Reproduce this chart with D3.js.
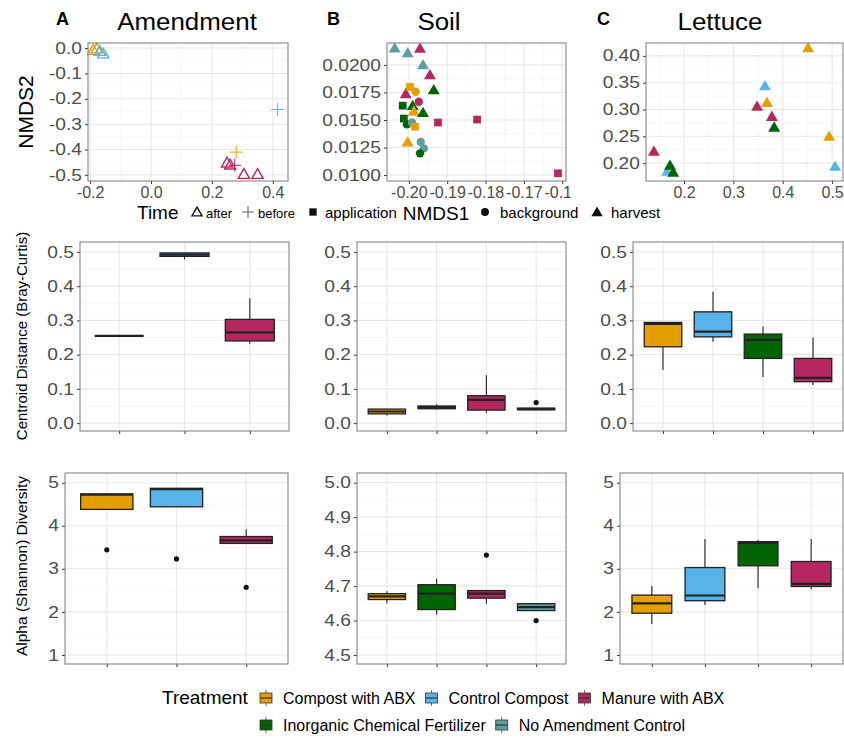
<!DOCTYPE html>
<html>
<head>
<meta charset="utf-8">
<script src="https://cdn.jsdelivr.net/npm/d3@7"></script>
<style>
  body { margin: 0; background: #fff; }
  text { font-family: "Liberation Sans", Arial, sans-serif; }
</style>
</head>
<body>
<svg id="chart" width="844" height="739"></svg>
<script>
// ---- data ----
const treatments = ["Compost with ABX", "Control Compost", "Manure with ABX",
                    "Inorganic Chemical Fertilizer", "No Amendment Control"];
const treatmentColors = ["#E69F00", "#56B4E9", "#B5275E", "#006400", "#5F9EA0"];
const timeLevels = ["after", "before", "application", "background", "harvest"];

const amendmentCats = ["Compost with ABX", "Control Compost", "Manure with ABX"];
const soilCats = ["Compost with ABX", "Inorganic Chemical Fertilizer", "Manure with ABX", "No Amendment Control"];
const lettuceCats = ["Compost with ABX", "Control Compost", "Inorganic Chemical Fertilizer", "Manure with ABX"];

// NMDS points: [treatment, time, NMDS1, NMDS2]
const amendmentPoints = [
  ["Compost with ABX", "after", -0.190, -0.008],
  ["Compost with ABX", "after", -0.178, -0.002],
  ["Control Compost", "after", -0.168, -0.012],
  ["Control Compost", "after", -0.157, -0.022],
  ["Control Compost", "before", 0.416, -0.242],
  ["Compost with ABX", "before", 0.280, -0.410],
  ["Manure with ABX", "after", 0.250, -0.452],
  ["Manure with ABX", "after", 0.260, -0.460],
  ["Manure with ABX", "before", 0.275, -0.462],
  ["Manure with ABX", "after", 0.305, -0.497],
  ["Manure with ABX", "after", 0.350, -0.497]
];
const soilPoints = [
  ["No Amendment Control", "harvest", -0.2037, 0.02153],
  ["No Amendment Control", "harvest", -0.2003, 0.02110],
  ["Manure with ABX", "harvest", -0.1971, 0.02150],
  ["No Amendment Control", "harvest", -0.1963, 0.02000],
  ["Manure with ABX", "harvest", -0.1945, 0.01910],
  ["Inorganic Chemical Fertilizer", "harvest", -0.1935, 0.01774],
  ["Manure with ABX", "harvest", -0.2008, 0.01738],
  ["Compost with ABX", "application", -0.1997, 0.01800],
  ["Compost with ABX", "background", -0.1982, 0.01756],
  ["Manure with ABX", "background", -0.1974, 0.01666],
  ["Inorganic Chemical Fertilizer", "application", -0.2016, 0.01630],
  ["Inorganic Chemical Fertilizer", "harvest", -0.1990, 0.01630],
  ["Compost with ABX", "harvest", -0.1987, 0.01580],
  ["Inorganic Chemical Fertilizer", "harvest", -0.1963, 0.01567],
  ["Inorganic Chemical Fertilizer", "application", -0.2013, 0.01513],
  ["Inorganic Chemical Fertilizer", "background", -0.2005, 0.01460],
  ["No Amendment Control", "background", -0.1992, 0.01477],
  ["Compost with ABX", "application", -0.1984, 0.01440],
  ["Manure with ABX", "application", -0.1924, 0.01477],
  ["Manure with ABX", "application", -0.1822, 0.01504],
  ["Compost with ABX", "harvest", -0.2003, 0.01300],
  ["No Amendment Control", "background", -0.1969, 0.01300],
  ["No Amendment Control", "background", -0.1961, 0.01242],
  ["Inorganic Chemical Fertilizer", "background", -0.1971, 0.01197],
  ["Manure with ABX", "application", -0.1611, 0.01016]
];
const lettucePoints = [
  ["Compost with ABX", "harvest", 0.4515, 0.415],
  ["Control Compost", "harvest", 0.364, 0.344],
  ["Compost with ABX", "harvest", 0.368, 0.313],
  ["Manure with ABX", "harvest", 0.348, 0.306],
  ["Manure with ABX", "harvest", 0.378, 0.287],
  ["Inorganic Chemical Fertilizer", "harvest", 0.3826, 0.267],
  ["Compost with ABX", "harvest", 0.494, 0.250],
  ["Control Compost", "harvest", 0.506, 0.194],
  ["Manure with ABX", "harvest", 0.139, 0.222],
  ["Control Compost", "harvest", 0.166, 0.185],
  ["Inorganic Chemical Fertilizer", "harvest", 0.1716, 0.196],
  ["Inorganic Chemical Fertilizer", "harvest", 0.178, 0.183]
];

// box summaries: [treatment, lower whisker, q1, median, q3, upper whisker, outliers]
const amendmentDistance = [
  ["Compost with ABX", 0.255, 0.255, 0.255, 0.255, 0.255, []],
  ["Control Compost", 0.478, 0.487, 0.492, 0.497, 0.497, []],
  ["Manure with ABX", 0.232, 0.240, 0.265, 0.303, 0.365, []]
];
const soilDistance = [
  ["Compost with ABX", 0.022, 0.027, 0.034, 0.041, 0.041, []],
  ["Inorganic Chemical Fertilizer", 0.040, 0.042, 0.046, 0.050, 0.055, []],
  ["Manure with ABX", 0.030, 0.038, 0.068, 0.080, 0.140, []],
  ["No Amendment Control", 0.038, 0.039, 0.041, 0.044, 0.044, [0.060]]
];
const lettuceDistance = [
  ["Compost with ABX", 0.155, 0.223, 0.290, 0.294, 0.294, []],
  ["Control Compost", 0.238, 0.252, 0.267, 0.325, 0.384, []],
  ["Inorganic Chemical Fertilizer", 0.135, 0.189, 0.243, 0.260, 0.282, []],
  ["Manure with ABX", 0.111, 0.121, 0.132, 0.189, 0.250, []]
];
const amendmentAlpha = [
  ["Compost with ABX", 4.38, 4.38, 4.72, 4.74, 4.74, [3.44]],
  ["Control Compost", 4.44, 4.44, 4.85, 4.87, 4.87, [3.23]],
  ["Manure with ABX", 3.59, 3.59, 3.66, 3.75, 3.92, [2.57]]
];
const soilAlpha = [
  ["Compost with ABX", 4.650, 4.661, 4.670, 4.678, 4.685, []],
  ["Inorganic Chemical Fertilizer", 4.617, 4.632, 4.678, 4.704, 4.721, []],
  ["Manure with ABX", 4.649, 4.665, 4.678, 4.687, 4.687, [4.790]],
  ["No Amendment Control", 4.629, 4.629, 4.639, 4.649, 4.651, [4.600]]
];
const lettuceAlpha = [
  ["Compost with ABX", 1.72, 1.97, 2.20, 2.39, 2.60, []],
  ["Control Compost", 2.16, 2.26, 2.38, 3.03, 3.69, []],
  ["Inorganic Chemical Fertilizer", 2.55, 3.07, 3.60, 3.63, 3.67, []],
  ["Manure with ABX", 2.52, 2.59, 2.65, 3.17, 3.69, []]
];

// axis domains and tick labels
const amendX = [-0.207, 0.45], amendY = [-0.524, 0.02];
const amendXTicks = [-0.2, 0, 0.2, 0.4], amendYTicks = [0, -0.1, -0.2, -0.3, -0.4, -0.5];
const soilX = [-0.2057, -0.159], soilY = [0.00946, 0.02199];
const soilXTicks = [-0.20, -0.19, -0.18, -0.17, -0.16], soilYTicks = [0.0100, 0.0125, 0.0150, 0.0175, 0.0200];
const lettX = [0.123, 0.522], lettY = [0.1667, 0.424];
const lettXTicks = [0.2, 0.3, 0.4, 0.5], lettYTicks = [0.20, 0.25, 0.30, 0.35, 0.40];
const distY = [-0.023, 0.529], distTicks = [0, 0.1, 0.2, 0.3, 0.4, 0.5];
const alphaY = [0.79, 5.225], alphaTicks = [1, 2, 3, 4, 5];
const soilAlphaY = [4.474, 5.028], soilAlphaTicks = [4.5, 4.6, 4.7, 4.8, 4.9, 5.0];

// ---- drawing ----
const svg = d3.select("#chart");
const colorOf = d3.scaleOrdinal().domain(treatments).range(treatmentColors);
const TICK_TXT = "#4d4d4d";
const STRETCH = 1.2;

function fmt(spec) {
  const f = d3.format(spec);
  return v => f(v).replace("\u2212", "-");
}

function stretch(sel, anchor, k) {
  const origin = anchor === "end" ? "100% 50%" : anchor === "start" ? "0% 50%" : "50% 50%";
  sel.style("transform-box", "fill-box")
     .style("transform-origin", origin)
     .style("transform", "scaleX(" + (k || STRETCH) + ")");
}

function minors(ticks, domain) {
  const s = ticks.slice().sort((a, b) => a - b);
  const step = s[1] - s[0];
  const lo = Math.min(...domain), hi = Math.max(...domain);
  const out = [];
  for (let v = s[0] - step / 2; v <= s[s.length - 1] + step / 2 + 1e-9; v += step) {
    if (v >= lo && v <= hi) out.push(v);
  }
  return out;
}

// panel background, grid and axes; returns the group for marks
function panel(x, y, opt) {
  const g = svg.append("g");
  const [x0, x1] = x.range();
  const [y1, y0] = y.range();

  g.append("rect").attr("x", x0).attr("y", y0)
    .attr("width", x1 - x0).attr("height", y1 - y0).attr("fill", "#fff");

  // minor grid
  minors(opt.yTicks, y.domain()).forEach(v => {
    g.append("line").attr("x1", x0).attr("x2", x1).attr("y1", y(v)).attr("y2", y(v))
      .attr("stroke", "#f2f2f2").attr("stroke-width", 0.7);
  });
  if (!opt.discrete) {
    minors(opt.xTicks, x.domain()).forEach(v => {
      g.append("line").attr("y1", y0).attr("y2", y1).attr("x1", x(v)).attr("x2", x(v))
        .attr("stroke", "#f2f2f2").attr("stroke-width", 0.7);
    });
  }
  // major grid
  opt.yTicks.forEach(v => {
    g.append("line").attr("x1", x0).attr("x2", x1).attr("y1", y(v)).attr("y2", y(v))
      .attr("stroke", "#e8e8e8").attr("stroke-width", 1.1);
  });
  const xs = opt.discrete ? x.domain() : opt.xTicks;
  xs.forEach(v => {
    g.append("line").attr("y1", y0).attr("y2", y1).attr("x1", x(v)).attr("x2", x(v))
      .attr("stroke", "#e8e8e8").attr("stroke-width", 1.1);
  });

  // axes
  const ya = g.append("g").attr("transform", `translate(${x0},0)`)
    .call(d3.axisLeft(y).tickValues(opt.yTicks).tickFormat(opt.yFmt).tickSize(3).tickPadding(3));
  const xa = g.append("g").attr("transform", `translate(0,${y1})`)
    .call(d3.axisBottom(x).tickValues(xs).tickFormat(opt.discrete ? "" : opt.xFmt).tickSize(3).tickPadding(3));
  [ya, xa].forEach(a => {
    a.select(".domain").remove();
    a.selectAll(".tick line").attr("stroke", "#333");
    a.selectAll("text").attr("fill", TICK_TXT).style("font-size", "16px")
      .style("font-family", '"Liberation Sans", Arial, sans-serif');
  });
  stretch(ya.selectAll("text"), "end");
  if (opt.clipX) xa.attr("clip-path", `url(#${opt.clipX})`);

  const marks = g.append("g");
  g.append("rect").attr("x", x0).attr("y", y0)
    .attr("width", x1 - x0).attr("height", y1 - y0)
    .attr("fill", "none").attr("stroke", "#7a7a7a").attr("stroke-width", 1);
  return marks;
}

function drawShape(g, time, px, py, col, s) {
  s = s || 1;
  if (time === "before") {
    const r = 6.5 * s;
    g.append("path").attr("d", `M${px - r},${py}H${px + r}M${px},${py - r}V${py + r}`)
      .attr("stroke", col).attr("stroke-width", 1).attr("fill", "none");
  } else if (time === "after") {
    g.append("path").attr("transform", `translate(${px},${py + 1})`)
      .attr("d", d3.symbol(d3.symbolTriangle, 55 * s)())
      .attr("fill", "none").attr("stroke", col).attr("stroke-width", 1.4);
  } else {
    const type = time === "application" ? d3.symbolSquare
      : time === "background" ? d3.symbolCircle : d3.symbolTriangle;
    const size = time === "application" ? 60 : time === "background" ? 55 : 62;
    g.append("path").attr("transform", `translate(${px},${py + (type === d3.symbolTriangle ? 1 : 0)})`)
      .attr("d", d3.symbol(type, size * s)())
      .attr("fill", col);
  }
}

function scatter(points, x, y, xTicks, yTicks, xFmt, yFmt, clipX) {
  const g = panel(x, y, { xTicks, yTicks, xFmt, yFmt, clipX });
  points.forEach(d => drawShape(g, d[1], x(d[2]), y(d[3]), colorOf(d[0])));
}

function boxes(rows, cats, xr, y, yTicks, yFmt) {
  const x = d3.scalePoint().domain(cats).range(xr).padding(0.6);
  const g = panel(x, y, { discrete: true, yTicks, yFmt });
  const w = x.step() * 0.75;
  rows.forEach(([trt, lo, q1, med, q3, hi, out]) => {
    const cx = x(trt);
    g.append("line").attr("x1", cx).attr("x2", cx).attr("y1", y(hi)).attr("y2", y(q3))
      .attr("stroke", "#222").attr("stroke-width", 1.1);
    g.append("line").attr("x1", cx).attr("x2", cx).attr("y1", y(q1)).attr("y2", y(lo))
      .attr("stroke", "#222").attr("stroke-width", 1.1);
    g.append("rect").attr("x", cx - w / 2).attr("y", y(q3))
      .attr("width", w).attr("height", Math.max(0, y(q1) - y(q3)))
      .attr("fill", colorOf(trt)).attr("stroke", "#222").attr("stroke-width", 1.3);
    g.append("line").attr("x1", cx - w / 2).attr("x2", cx + w / 2).attr("y1", y(med)).attr("y2", y(med))
      .attr("stroke", "#222").attr("stroke-width", 2.2);
    out.forEach(v => g.append("circle").attr("cx", cx).attr("cy", y(v)).attr("r", 2.6).attr("fill", "#111"));
  });
}

// clip for the crowded Soil x labels (last one is cut like in the figure)
svg.append("defs").append("clipPath").attr("id", "clipSoil")
  .append("rect").attr("x", 290).attr("y", 0).attr("width", 280.5).attr("height", 739);

// ---- row 1: NMDS ----
scatter(amendmentPoints,
  d3.scaleLinear().domain(amendX).range([88, 288]),
  d3.scaleLinear().domain(amendY).range([181, 43]),
  amendXTicks, amendYTicks, fmt(".1f"), fmt(".1f"));
scatter(soilPoints,
  d3.scaleLinear().domain(soilX).range([387, 566]),
  d3.scaleLinear().domain(soilY).range([181, 43]),
  soilXTicks, soilYTicks, fmt(".2f"), fmt(".4f"), "clipSoil");
scatter(lettucePoints,
  d3.scaleLinear().domain(lettX).range([646, 843]),
  d3.scaleLinear().domain(lettY).range([181, 43]),
  lettXTicks, lettYTicks, fmt(".1f"), fmt(".2f"));

// ---- row 2: centroid distance ----
const yDist = d3.scaleLinear().domain(distY).range([431, 242]);
boxes(amendmentDistance, amendmentCats, [80, 289], yDist, distTicks, fmt(".1f"));
boxes(soilDistance, soilCats, [357, 566], yDist, distTicks, fmt(".1f"));
boxes(lettuceDistance, lettuceCats, [633, 843], yDist, distTicks, fmt(".1f"));

// ---- row 3: alpha diversity ----
const yAlpha = d3.scaleLinear().domain(alphaY).range([664, 473]);
boxes(amendmentAlpha, amendmentCats, [65, 288], yAlpha, alphaTicks, fmt("d"));
boxes(soilAlpha, soilCats, [357, 566], d3.scaleLinear().domain(soilAlphaY).range([664, 473]), soilAlphaTicks, fmt(".1f"));
boxes(lettuceAlpha, lettuceCats, [620, 843], yAlpha, alphaTicks, fmt("d"));

// ---- titles ----
const titles = [["A", "Amendment", 56, 187], ["B", "Soil", 327, 439], ["C", "Lettuce", 597, 720]];
titles.forEach(([tag, name, tx, cx]) => {
  svg.append("text").attr("x", tx).attr("y", 25).text(tag)
    .style("font-size", "18px").style("font-weight", "bold").attr("fill", "#000");
  const t = svg.append("text").attr("x", cx).attr("y", 30).attr("text-anchor", "middle").text(name)
    .style("font-size", "24px").attr("fill", "#000");
  stretch(t, "middle", 1.08);
});

function yTitle(label, cx, cy, size) {
  svg.append("text").attr("transform", `translate(${cx},${cy}) rotate(-90)`)
    .attr("text-anchor", "middle").attr("dy", "0.35em").text(label)
    .style("font-size", size + "px").attr("fill", "#000");
}
yTitle("NMDS2", 26, 112, 21);
yTitle("Centroid Distance (Bray-Curtis)", 22, 336, 15);
yTitle("Alpha (Shannon) Diversity", 22, 566, 15.5);

// ---- Time legend with the shared NMDS1 title ----
const legY = 212;
svg.append("text").attr("x", 137).attr("y", legY + 7).text("Time").style("font-size", "19px");
const timeKeyX = [197, 248, 313, 485, 597];
const timeLabelX = [206, 258, 325, 500, 611];
timeLevels.forEach((t, i) => {
  drawShape(svg, t, timeKeyX[i], legY, t === "before" ? "#555" : "#111", t === "after" ? 0.8 : 0.9);
  svg.append("text").attr("x", timeLabelX[i]).attr("y", legY + 6).text(t)
    .style("font-size", (i < 2 ? 13 : 15) + "px");
});
svg.append("text").attr("x", 436).attr("y", legY + 8).attr("text-anchor", "middle")
  .text("NMDS1").style("font-size", "19px");

// ---- Treatment legend (two rows, laid out left to right) ----
svg.append("text").attr("x", 162).attr("y", 704).text("Treatment").style("font-size", "19px");
const legendRows = [["Compost with ABX", "Control Compost", "Manure with ABX"],
                    ["Inorganic Chemical Fertilizer", "No Amendment Control"]];
legendRows.forEach((row, r) => {
  const ky = r === 0 ? 698 : 725;
  let kx = 266;
  row.forEach(trt => {
    svg.append("line").attr("x1", kx).attr("x2", kx).attr("y1", ky - 8).attr("y2", ky + 8)
      .attr("stroke", "#444").attr("stroke-width", 0.8);
    svg.append("rect").attr("x", kx - 6).attr("y", ky - 5).attr("width", 12).attr("height", 10)
      .attr("fill", colorOf(trt)).attr("stroke", "#333").attr("stroke-width", 0.8);
    svg.append("line").attr("x1", kx - 6).attr("x2", kx + 6).attr("y1", ky).attr("y2", ky)
      .attr("stroke", "#333").attr("stroke-width", 1.2);
    const t = svg.append("text").attr("x", kx + 17).attr("y", ky + 6).text(trt).style("font-size", "16px");
    kx += 17 + t.node().getComputedTextLength() + 16;
  });
});
</script>
</body>
</html>
